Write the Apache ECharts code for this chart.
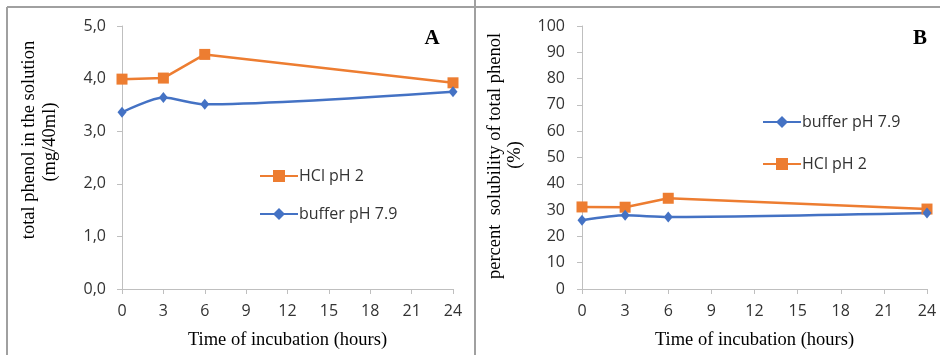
<!DOCTYPE html>
<html>
<head>
<meta charset="utf-8">
<script src="https://cdn.jsdelivr.net/npm/echarts@6/dist/echarts.min.js"></script>
<style>
  html, body { margin: 0; padding: 0; background: #fff; }
  #chart { width: 940px; height: 355px; }
</style>
</head>
<body>
<div id="chart"></div>
<script>
// Sampling times (hours)
const hours = [0, 3, 6, 24];
const xTicks = [0, 3, 6, 9, 12, 15, 18, 21, 24];

// Panel A: total phenol in the solution (mg/40ml)
const phenolHCl = [3.99, 4.01, 4.46, 3.92];
const phenolBuffer = [3.36, 3.64, 3.51, 3.75];

// Panel B: percent solubility of total phenol (%)
const solubilityHCl = [31.2, 31.1, 34.5, 30.4];
const solubilityBuffer = [26.1, 28.0, 27.4, 28.9];

const seriesNames = { hcl: 'HCl pH 2', buffer: 'buffer pH 7.9' };

const ORANGE = '#ED7D31';
const BLUE = '#4472C4';
const AXIS_GRAY = '#BFBFBF';
const TICK_FONT = '"Open Sans", "Noto Sans", sans-serif';
const SERIF = '"Liberation Serif", "DejaVu Serif", serif';

const pair = (xs, ys) => xs.map((x, i) => [x, ys[i]]);

function xAxisFor(gridIndex) {
  return {
    type: 'value', gridIndex, min: 0, max: 24, interval: 3,
    axisLine: { show: true, lineStyle: { color: AXIS_GRAY, width: 1 } },
    axisTick: { show: true, length: 5, lineStyle: { color: AXIS_GRAY } },
    splitLine: { show: false },
    axisLabel: { color: '#333', fontFamily: TICK_FONT, fontSize: 16, margin: 14 },
    name: 'Time of incubation (hours)',
    nameLocation: 'middle', nameGap: 42,
    nameTextStyle: { color: '#000', fontFamily: SERIF, fontSize: 18.5 }
  };
}

function lineSeries(name, data, color, symbol, size, xi, yi) {
  return {
    type: 'line', name, data, xAxisIndex: xi, yAxisIndex: yi,
    symbol, symbolSize: size, showSymbol: true,
    smooth: name === seriesNames.buffer ? 0.25 : false,
    lineStyle: { color, width: 2.5 },
    itemStyle: { color },
    emphasis: { disabled: true },
    animation: false
  };
}

const chart = echarts.init(document.getElementById('chart'), null, { renderer: 'canvas' });

chart.setOption({
  animation: false,
  grid: [
    { left: 122, top: 26, width: 331, height: 265 },
    { left: 582, top: 26, width: 345, height: 264 }
  ],
  xAxis: [xAxisFor(0), xAxisFor(1)],
  yAxis: [
    {
      type: 'value', gridIndex: 0, min: 0, max: 5, interval: 1,
      axisLine: { show: true, lineStyle: { color: AXIS_GRAY } },
      axisTick: { show: true, length: 5, lineStyle: { color: AXIS_GRAY } },
      splitLine: { show: false },
      axisLabel: {
        color: '#333', fontFamily: TICK_FONT, fontSize: 16, margin: 16,
        formatter: v => v.toFixed(1).replace('.', ',')
      }
    },
    {
      type: 'value', gridIndex: 1, min: 0, max: 100, interval: 10,
      axisLine: { show: true, lineStyle: { color: AXIS_GRAY } },
      axisTick: { show: true, length: 5, lineStyle: { color: AXIS_GRAY } },
      splitLine: { show: false },
      axisLabel: { color: '#333', fontFamily: TICK_FONT, fontSize: 16, margin: 17 }
    }
  ],
  legend: [
    {
      orient: 'vertical', left: 254, top: 163, itemGap: 22,
      itemWidth: 38, itemHeight: 15,
      data: [seriesNames.hcl, seriesNames.buffer],
      textStyle: { color: '#333', fontFamily: TICK_FONT, fontSize: 16, padding: [0, 0, 0, -4] },
      selectedMode: false
    },
    {
      orient: 'vertical', left: 757, top: 109, itemGap: 26,
      itemWidth: 38, itemHeight: 15,
      data: [seriesNames.buffer, seriesNames.hcl],
      textStyle: { color: '#333', fontFamily: TICK_FONT, fontSize: 16, padding: [0, 0, 0, -4] },
      selectedMode: false
    }
  ],
  series: [
    lineSeries(seriesNames.hcl, pair(hours, phenolHCl), ORANGE, 'rect', 11, 0, 0),
    lineSeries(seriesNames.buffer, pair(hours, phenolBuffer), BLUE, 'diamond', [9, 11], 0, 0),
    lineSeries(seriesNames.hcl, pair(hours, solubilityHCl), ORANGE, 'rect', 11, 1, 1),
    lineSeries(seriesNames.buffer, pair(hours, solubilityBuffer), BLUE, 'diamond', [9, 11], 1, 1)
  ],
  graphic: [
    // panel frames
    { type: 'line', shape: { x1: 7, y1: 7, x2: 940, y2: 7 }, style: { stroke: '#A0A0A0', lineWidth: 2 } },
    { type: 'line', shape: { x1: 7, y1: 7, x2: 7, y2: 355 }, style: { stroke: '#A0A0A0', lineWidth: 2 } },
    { type: 'line', shape: { x1: 475, y1: 0, x2: 475, y2: 355 }, style: { stroke: '#A0A0A0', lineWidth: 2 } },
    // y-axis titles
    {
      type: 'text', x: 29, y: 140, rotation: Math.PI / 2,
      style: { text: 'total phenol in the solution', font: '18.5px ' + SERIF, fill: '#000', align: 'center', verticalAlign: 'middle' }
    },
    {
      type: 'text', x: 50, y: 142, rotation: Math.PI / 2,
      style: { text: '(mg/40ml)', font: '18.5px ' + SERIF, fill: '#000', align: 'center', verticalAlign: 'middle' }
    },
    {
      type: 'text', x: 495, y: 156, rotation: Math.PI / 2,
      style: { text: 'percent  solubility of total phenol', font: '18.5px ' + SERIF, fill: '#000', align: 'center', verticalAlign: 'middle' }
    },
    {
      type: 'text', x: 515, y: 155, rotation: Math.PI / 2,
      style: { text: '(%)', font: '18.5px ' + SERIF, fill: '#000', align: 'center', verticalAlign: 'middle' }
    },
    // panel letters
    {
      type: 'text', x: 432, y: 39,
      style: { text: 'A', font: 'bold 21px ' + SERIF, fill: '#000', align: 'center', verticalAlign: 'middle' }
    },
    {
      type: 'text', x: 920, y: 39,
      style: { text: 'B', font: 'bold 21px ' + SERIF, fill: '#000', align: 'center', verticalAlign: 'middle' }
    }
  ]
});
</script>
</body>
</html>
